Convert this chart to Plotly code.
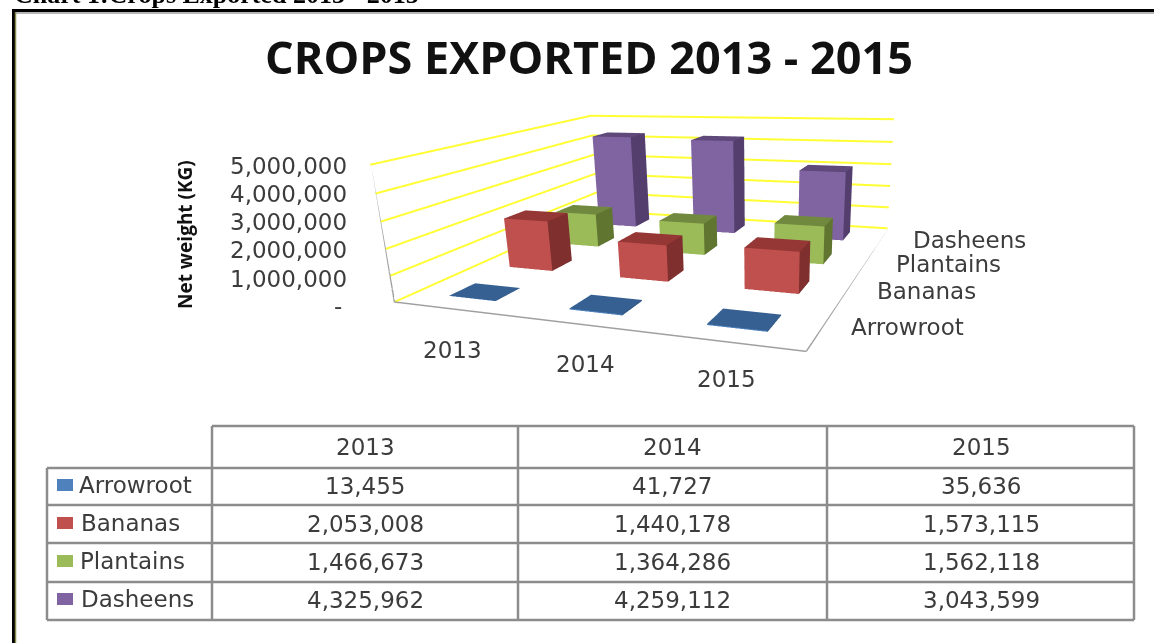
import plotly.graph_objects as go

W, H = 1154, 643
years = ['2013', '2014', '2015']
crops = ['Arrowroot', 'Bananas', 'Plantains', 'Dasheens']
arrowroot = [13455, 41727, 35636]
bananas = [2053008, 1440178, 1573115]
plantains = [1466673, 1364286, 1562118]
dasheens = [4325962, 4259112, 3043599]
z_ticks = [0, 1000000, 2000000, 3000000, 4000000, 5000000]
z_labels = ['-', '1,000,000', '2,000,000', '3,000,000', '4,000,000', '5,000,000']
series = [arrowroot, bananas, plantains, dasheens]
front = ['#4F81BD', '#C0504D', '#9BBB59', '#8064A2']
top = ['#376092', '#953735', '#71893F', '#5F497A']
side = ['#2F5580', '#7F2F2D', '#5F7530', '#533E6E']

xr = (-0.5, 2.5)
yr = (-0.5, 3.5)
zr = (0.0, 5e6)


def px(v):
    return v / W


def py(v):
    return 1 - v / H


fig = go.Figure()
hw = 0.2
faces = [(0, 1, 5), (0, 5, 4), (1, 2, 6), (1, 6, 5), (4, 5, 6), (4, 6, 7)]
for s, vals in enumerate(series):
    X, Y, Z, I, J, K, FC = [], [], [], [], [], [], []
    cols = [front[s]] * 2 + [side[s]] * 2 + [top[s]] * 2
    for c, v in enumerate(vals):
        b = len(X)
        x0, x1, y0, y1 = c - hw, c + hw, s - hw, s + hw
        X += [x0, x1, x1, x0, x0, x1, x1, x0]
        Y += [y0, y0, y1, y1, y0, y0, y1, y1]
        Z += [0, 0, 0, 0, v, v, v, v]
        for (p, q, r), col in zip(faces, cols):
            I.append(b + p)
            J.append(b + q)
            K.append(b + r)
            FC.append(col)
    fig.add_trace(go.Mesh3d(x=X, y=Y, z=Z, i=I, j=J, k=K, facecolor=FC, flatshading=True,
                            hoverinfo='skip', name=crops[s],
                            lighting=dict(ambient=1, diffuse=0, specular=0, fresnel=0, roughness=1)))
fig.add_trace(go.Scatter3d(x=[xr[0], xr[0], xr[1], xr[1]], y=[yr[0], yr[0], yr[0], yr[1]],
                           z=[zr[1], 0, 0, 0], mode='lines',
                           line=dict(color='#a0a0a0', width=3), hoverinfo='skip'))

shapes = []


def L(x0, y0, x1, y1, col, w):
    shapes.append(dict(type='line', xref='paper', yref='paper', x0=px(x0), x1=px(x1),
                       y0=py(y0), y1=py(y1), line=dict(color=col, width=w)))


L(13, 10.5, 1154, 10.5, '#000000', 3)
L(14, 13, 1154, 13, '#b5b5b5', 2)
L(13.5, 9, 13.5, 643, '#000000', 3)
L(15.5, 12, 15.5, 643, '#8a8a50', 1.5)
G = '#8c8c8c'
L(212, 426, 1134, 426, G, 2.5)
for y in [468, 505, 543, 582, 620]:
    L(47, y, 1134, y, G, 2.5)
L(47, 468, 47, 620, G, 2.5)
for x in [212, 518, 827, 1134]:
    L(x, 426, x, 620, G, 2.5)
rows = [485, 523, 561, 599]
for y, col in zip(rows, front):
    shapes.append(dict(type='rect', xref='paper', yref='paper', x0=px(57), x1=px(73),
                       y0=py(y - 6), y1=py(y + 6), fillcolor=col, line=dict(width=0)))

TC = '#3c3c3c'
F = 'DejaVu Sans'
ann = []


def A(t, x, y, size=23, xa='center', col=TC, fam=F, rot=0):
    ann.append(dict(text=t, xref='paper', yref='paper', x=px(x), y=py(y), xanchor=xa,
                    yanchor='middle', showarrow=False, textangle=rot,
                    font=dict(family=fam, size=size, color=col)))


A('<b>CROPS EXPORTED 2013 - 2015</b>', 589, 56, 45, col='#111111', fam='Open Sans')
A('<b>Chart 1:Crops Exported 2013 - 2015</b>', 12, -6, 26, xa='left', col='#000000', fam='Liberation Serif')
A('<b>Net weight (KG)</b>', 185, 235, 19, col='#111111', fam='Open Sans', rot=-90)
for v, y in zip(z_labels, [306, 279, 250, 222, 194, 166]):
    A(v, 349 if v != '-' else 344, y, xa='right')
for t, x, y in zip(years, [452, 585, 726], [350, 364, 379]):
    A(t, x, y)
for t, x, y in zip(crops, [851, 877, 896, 913], [327, 291, 264, 240]):
    A(t, x - 2, y, xa='left')
for t, x in zip(years, [365, 672, 981]):
    A(t, x, 447)
for t, y, x, vals in zip(crops, rows, [79, 81, 80, 81], series):
    A(t, x - 2, y, xa='left')
    for v, cx in zip(vals, [365, 672, 981]):
        A(f'{v:,}', cx, y + 1)

ax = dict(showticklabels=False, title='', showbackground=False, zeroline=False,
          showline=False, ticks='', showspikes=False)
fig.update_layout(
    width=W, height=H, margin=dict(l=0, r=0, t=0, b=0), showlegend=False,
    shapes=shapes, annotations=ann, paper_bgcolor='white',
    scene=dict(
        domain=dict(x=[0.20643672, 1], y=[0, 1]),
        aspectmode='manual', aspectratio=dict(x=5.2971, y=5.3722, z=1.7185),
        camera=dict(eye=dict(x=4.3724, y=-9.8466, z=2.2397),
                    center=dict(x=-3.6821, y=9.8615, z=-5.7613),
                    up=dict(x=-6.8013, y=17.2622, z=1)),
        xaxis=dict(range=list(xr), showgrid=False, **ax),
        yaxis=dict(range=list(yr), showgrid=False, **ax),
        zaxis=dict(range=list(zr), tickvals=z_ticks, showgrid=True,
                   gridcolor='#ffff33', gridwidth=4, **ax)))
fig.write_html('out.html', post_script="document.body.style.margin='0';",
               config=dict(displayModeBar=False))
